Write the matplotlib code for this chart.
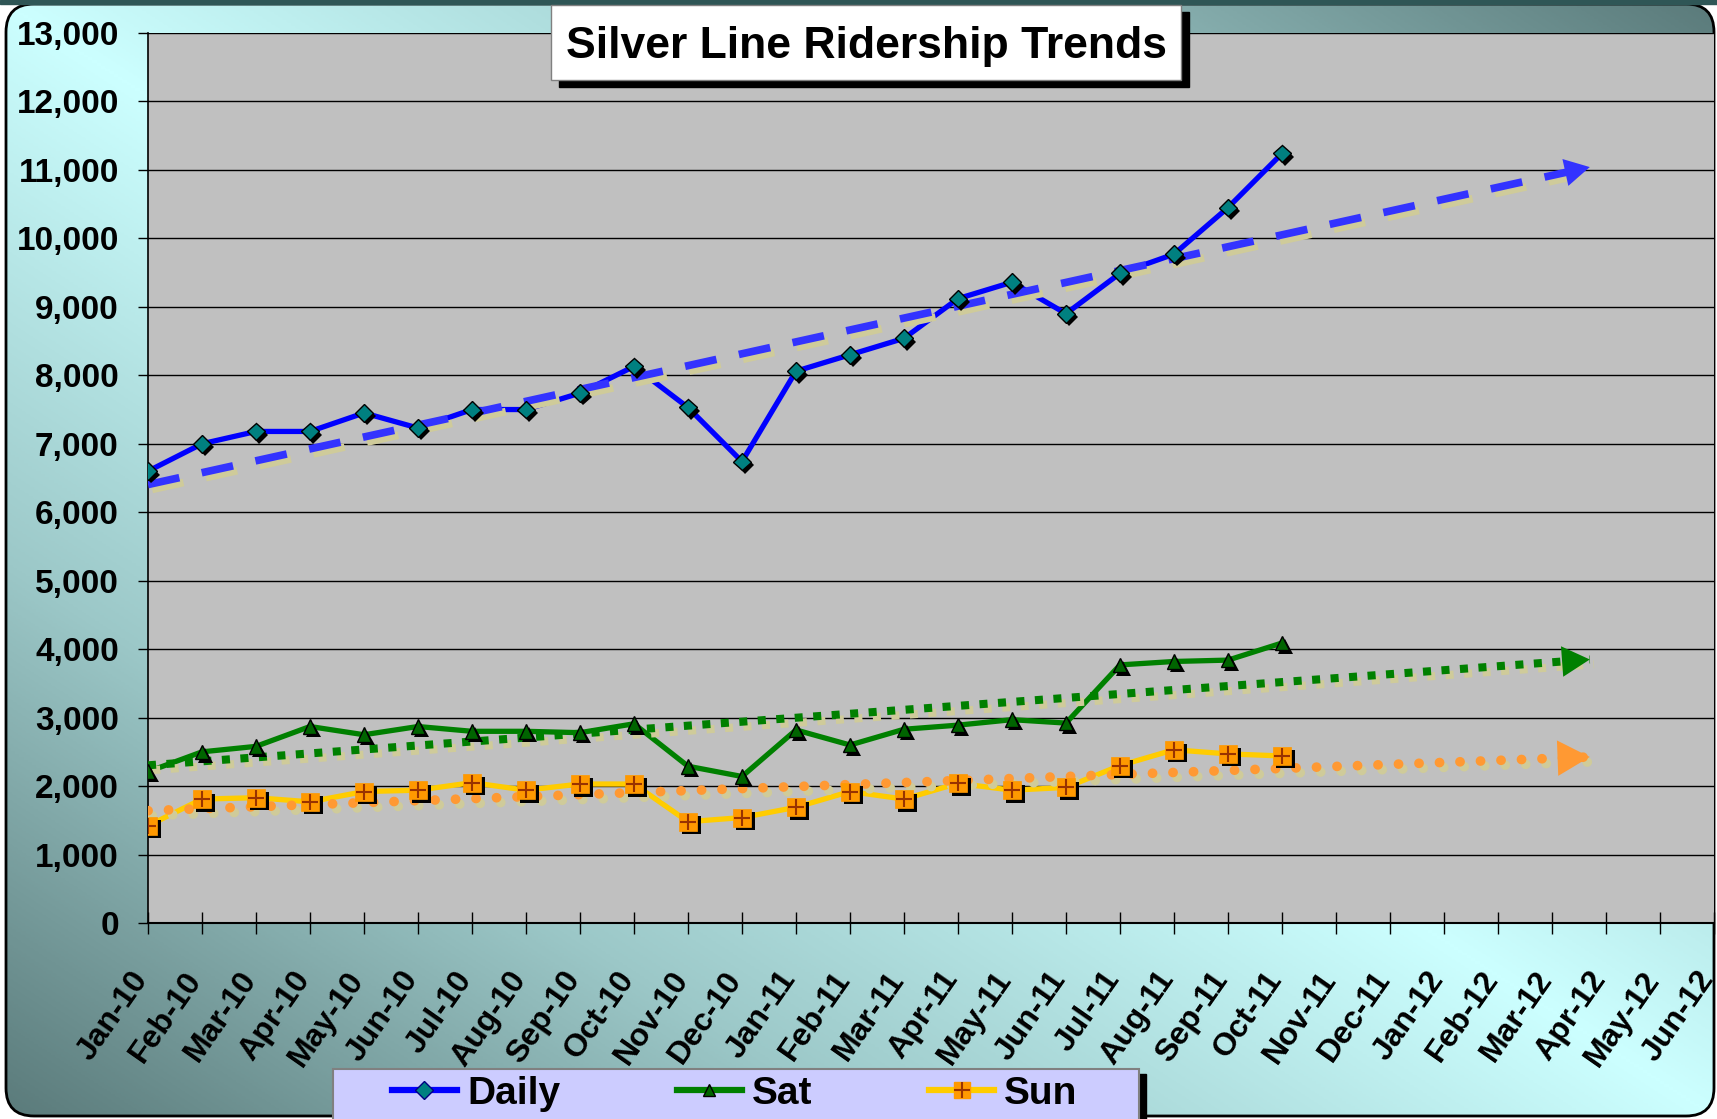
import numpy as np
import matplotlib.pyplot as plt
import matplotlib.patheffects as pe
import matplotlib.transforms as mtransforms
from matplotlib.colors import LinearSegmentedColormap
from matplotlib.patches import Rectangle, FancyBboxPatch
from matplotlib.lines import Line2D
from matplotlib.legend_handler import HandlerTuple

months = ['Jan-10', 'Feb-10', 'Mar-10', 'Apr-10', 'May-10', 'Jun-10', 'Jul-10',
          'Aug-10', 'Sep-10', 'Oct-10', 'Nov-10', 'Dec-10', 'Jan-11', 'Feb-11',
          'Mar-11', 'Apr-11', 'May-11', 'Jun-11', 'Jul-11', 'Aug-11', 'Sep-11',
          'Oct-11', 'Nov-11', 'Dec-11', 'Jan-12', 'Feb-12', 'Mar-12', 'Apr-12',
          'May-12', 'Jun-12']

daily = [6600, 7000, 7180, 7180, 7450, 7230, 7500, 7500, 7740, 8130, 7530, 6740,
         8060, 8300, 8540, 9120, 9360, 8900, 9490, 9770, 10450, 11240]
sat = [2210, 2500, 2580, 2870, 2750, 2870, 2800, 2800, 2780, 2910, 2290, 2140,
       2820, 2600, 2830, 2890, 2970, 2920, 3770, 3820, 3840, 4090]
sun = [1420, 1810, 1830, 1770, 1920, 1940, 2050, 1940, 2030, 2030, 1480, 1540,
       1690, 1920, 1810, 2040, 1940, 1980, 2300, 2530, 2470, 2440]

# linear trendlines are projected forward to just short of Apr-12
trend_end = 26.7

W, H = 1717, 1119
plt.rcParams['font.family'] = ['Liberation Sans', 'DejaVu Sans']
plt.rcParams['font.weight'] = 'bold'

fig = plt.figure(figsize=(W / 100, H / 100), dpi=100, facecolor='white')

# background with diagonal gradient, light in top-left / bottom-right corners
bg = fig.add_axes([0, 0, 1, 1], zorder=-10)
bg.set_xlim(0, W)
bg.set_ylim(H, 0)
bg.axis('off')
yy, xx = np.mgrid[0:1:400j, 0:1:400j]
cmap = LinearSegmentedColormap.from_list('bg', ['#5A7A7A', '#9CC8C8', '#CCFFFF'])
img = bg.imshow(1 - np.abs(xx - yy), cmap=cmap, extent=(0, W, H, 0), aspect='auto')
frame = FancyBboxPatch((6, 4), W - 9, H - 7, boxstyle='round,pad=0,rounding_size=28',
                       facecolor='none', edgecolor='black', lw=2)
bg.add_patch(frame)
img.set_clip_path(frame)
bg.add_patch(Rectangle((0, 0), W, 4, color='#2F5656'))

# legend box (bottom is cut by the figure edge)
bg.add_patch(Rectangle((340, 1074), 806, 60, color='black'))
bg.add_patch(Rectangle((333, 1069), 806, 60, fc='#CCCCFF', ec='#808080', lw=1.5))

ax = fig.add_axes([148 / W, 1 - 923 / H, (1714 - 148) / W, (923 - 33) / H])
ax.set_facecolor('#C0C0C0')
ax.set_xlim(0, len(months) - 1)
ax.set_ylim(0, 13000)
ax.set_yticks(range(0, 13001, 1000))
ax.set_yticklabels(['{:,}'.format(v) for v in range(0, 13001, 1000)])
ax.set_xticks(range(len(months)))
ax.set_xticklabels(months, rotation=55, ha='right', va='center', rotation_mode='anchor')
ax.yaxis.grid(True, color='black', lw=1)
ax.set_axisbelow(True)
ax.spines['top'].set_visible(False)
ax.spines['right'].set_visible(False)
ax.spines['left'].set_linewidth(1.2)
ax.spines['bottom'].set_linewidth(1.5)
ax.tick_params(axis='y', direction='out', length=7, width=1, pad=14, labelsize=24)
ax.tick_params(axis='x', direction='inout', length=16, width=1, pad=29, labelsize=23)
shift = mtransforms.ScaledTranslation(-6 / 100, 0, fig.dpi_scale_trans)
for lab in ax.get_xticklabels():
    lab.set_transform(lab.get_transform() + shift)

x = np.arange(len(daily))

tr_shadow = [pe.SimpleLineShadow(offset=(3, -3.5), shadow_color='#CFCB9A', alpha=1.0), pe.Normal()]
mk_shadow = [pe.SimplePatchShadow(offset=(2.5, -2.5), shadow_rgbFace='black', alpha=1.0), pe.Normal()]

# main series lines
ax.plot(x, daily, color='#0000FF', lw=3.8, zorder=3)
ax.plot(x, sat, color='#008000', lw=3.8, zorder=3)
ax.plot(x, sun, color='#FFCC00', lw=3.8, zorder=3)


def trendline(vals, color, lw, dashes, cap, head):
    k, b = np.polyfit(np.arange(len(vals)), vals, 1)
    xt = np.array([0, trend_end])
    ax.plot(xt, k * xt + b, color=color, lw=lw, dashes=dashes, dash_capstyle=cap,
            path_effects=tr_shadow, zorder=4)
    ax.annotate('', xy=(trend_end, k * trend_end + b),
                xytext=(trend_end - 0.6, k * (trend_end - 0.6) + b),
                arrowprops=dict(arrowstyle='-|>,head_length=0.4,head_width=0.22',
                                mutation_scale=head, color=color, lw=0,
                                shrinkA=0, shrinkB=0, path_effects=tr_shadow),
                zorder=4)


trendline(daily, '#3333FF', 5.5, (4.2, 3.0), 'butt', 45)
trendline(sat, '#008000', 5.8, (1.0, 1.3), 'butt', 50)
trendline(sun, '#FF9933', 7.0, (0.01, 2.1), 'round', 58)

# markers with black drop shadows
ax.plot(x, daily, ls='none', marker='D', ms=9, mfc='#008080', mec='black', mew=1,
        path_effects=mk_shadow, zorder=5)
ax.plot(x, sat, ls='none', marker='^', ms=10.5, mfc='#006400', mec='black', mew=1,
        path_effects=mk_shadow, zorder=5)
ax.plot(x, sun, ls='none', marker='s', ms=13, mfc='#FF9900', mec='#FF9900', mew=0.5,
        path_effects=mk_shadow, zorder=5)
ax.plot(x, sun, ls='none', marker='+', ms=12, mec='#993300', mew=1.5, zorder=6)

# legend
h_daily = Line2D([], [], color='#0000FF', lw=4.5, marker='D', ms=9, mfc='#008080', mec='#000080')
h_sat = Line2D([], [], color='#008000', lw=4.5, marker='^', ms=9, mfc='#006400', mec='black')
h_sun = (Line2D([], [], color='#FFCC00', lw=4.5, marker='s', ms=12, mfc='#FF9900', mec='#FF9900'),
         Line2D([], [], ls='none', marker='+', ms=11, mec='#993300', mew=1.5))
fig.legend([h_daily, h_sat, h_sun], ['Daily', 'Sat', 'Sun'], loc='center left',
           bbox_to_anchor=(392 / W, 1 - 1094 / H), ncol=3, frameon=False, fontsize=28,
           handlelength=1.67, handletextpad=0.26, columnspacing=3.0, borderpad=0,
           borderaxespad=0, numpoints=1, handler_map={tuple: HandlerTuple(ndivide=1)})

# title box on top of the plot area
ov = fig.add_axes([0, 0, 1, 1], zorder=5)
ov.set_xlim(0, W)
ov.set_ylim(H, 0)
ov.axis('off')
ov.add_patch(Rectangle((559, 12), 630, 75, color='black'))
ov.add_patch(Rectangle((551, 5), 630, 75, fc='white', ec='#808080', lw=1))
ov.text(866, 58, 'Silver Line Ridership Trends', ha='center', va='baseline',
        fontsize=32, fontweight='bold')

fig.savefig('out.png', dpi=100)
